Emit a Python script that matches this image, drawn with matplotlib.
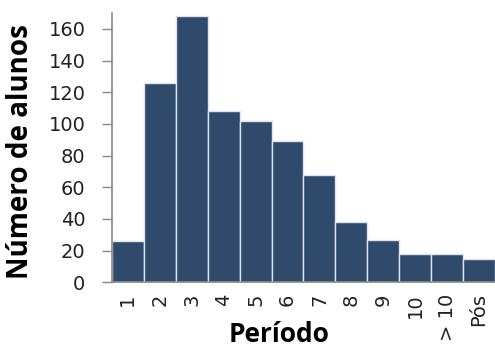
import matplotlib
matplotlib.use('Agg')
import matplotlib.pyplot as plt
import numpy as np

periodos = ['1', '2', '3', '4', '5', '6', '7', '8', '9', '10', '> 10', 'Pós']
alunos = [26, 126, 168, 108, 102, 89, 68, 38, 27, 18, 18, 15]

plt.rcParams['font.family'] = ['Open Sans', 'DejaVu Sans']

fig = plt.figure(figsize=(4.95, 3.52), dpi=100)
ax = fig.add_axes([0.226, 0.198, 0.774, 0.765])

x = np.arange(len(periodos))
ax.bar(x, alunos, width=1.0, color='#2F4A6A', edgecolor='#DCE4F0', linewidth=1.0)

ax.set_xlim(-0.5, len(periodos) - 0.5)
ax.set_ylim(0, 170)
ax.set_yticks(np.arange(0, 161, 20))
ax.set_xticks(x)
ax.set_xticklabels(periodos, rotation=90, fontsize=14, family='DejaVu Sans')
ax.set_yticklabels([str(v) for v in range(0, 161, 20)], fontsize=14, family='DejaVu Sans')
ax.tick_params(axis='y', length=7, color='#888888', width=1, pad=12, labelcolor='#222222')
ax.tick_params(axis='x', length=0, pad=8, labelcolor='#222222')

for s in ['top', 'right']:
    ax.spines[s].set_visible(False)
for s in ['left', 'bottom']:
    ax.spines[s].set_color('#888888')
    ax.spines[s].set_linewidth(1.2)

fig.text(0.041, 0.57, 'Número de alunos', rotation=90, ha='center', va='center',
         fontsize=20, fontweight='bold')
fig.text(0.563, 0.012, 'Período', ha='center', va='bottom', fontsize=19, fontweight='bold')

fig.savefig('out.png', dpi=100)
